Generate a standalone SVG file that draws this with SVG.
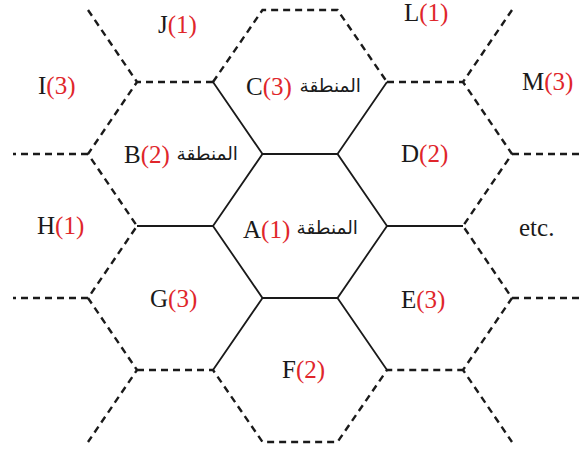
<svg xmlns="http://www.w3.org/2000/svg" width="581" height="453" viewBox="0 0 581 453">
<style>
.s{fill:none;stroke:#1a1a1a;stroke-width:1.8;stroke-linejoin:miter}
.d{fill:none;stroke:#1a1a1a;stroke-width:2.4;stroke-dasharray:7,5}
.t{font-family:"Liberation Serif","Times New Roman",serif;font-size:25px;fill:#1a1a1a}
.r{fill:#e0262b}
.ar{font-family:"DejaVu Sans","Noto Sans",sans-serif;font-size:18.5px;fill:#1a1a1a}
</style>
<rect width="581" height="453" fill="#ffffff"/>
<g id="connectors">
<path class="s" d="M262.5,154 L337.5,154 L387,226 L337.5,298 L262.5,298 L213,226 Z"/>
<path class="s" d="M262.5,154 L213,82 M337.5,154 L387,82 M213,226 L137,226 M387,226 L463,226 M262.5,298 L213,370 M337.5,298 L387,370"/>
<path class="d" d="M213,82 L262.5,10 L337.5,10 L387,82"/>
<path class="d" d="M213,82 L137,82 M387,82 L463,82"/>
<path class="d" d="M88,10 L137,82 L88,154 L137,226 L88,298 L137,370 L88,442"/>
<path class="d" d="M512,10 L463,82 L512,154 L463,226 L512,298 L463,370 L512,442"/>
<path class="d" d="M88,154 L13,154 M88,298 L13,298 M512,154 L581,154 M512,298 L581,298"/>
<path class="d" d="M137,370 L213,370 L262.5,442 L337.5,442 L387,370 L463,370"/>
</g>
<g id="A"><text class="t" x="243" y="238">A<tspan class="r">(1)</tspan></text><text class="ar" x="358" y="234" text-anchor="end">المنطقة</text></g>
<g id="B"><text class="t" x="124" y="163">B<tspan class="r">(2)</tspan></text><text class="ar" x="238" y="160" text-anchor="end">المنطقة</text></g>
<g id="C"><text class="t" x="246" y="95">C<tspan class="r">(3)</tspan></text><text class="ar" x="361" y="92" text-anchor="end">المنطقة</text></g>
<g id="D"><text class="t" x="401" y="162">D<tspan class="r">(2)</tspan></text></g>
<g id="E"><text class="t" x="401" y="308">E<tspan class="r">(3)</tspan></text></g>
<g id="F"><text class="t" x="282" y="378">F<tspan class="r">(2)</tspan></text></g>
<g id="G"><text class="t" x="150" y="307">G<tspan class="r">(3)</tspan></text></g>
<g id="H"><text class="t" x="37" y="234">H<tspan class="r">(1)</tspan></text></g>
<g id="I"><text class="t" x="38" y="94">I<tspan class="r">(3)</tspan></text></g>
<g id="J"><text class="t" x="158" y="33">J<tspan class="r">(1)</tspan></text></g>
<g id="L"><text class="t" x="404" y="21">L<tspan class="r">(1)</tspan></text></g>
<g id="M"><text class="t" x="522" y="90">M<tspan class="r">(3)</tspan></text></g>
<g id="etc"><text class="t" x="519" y="236">etc.</text></g>
</svg>
